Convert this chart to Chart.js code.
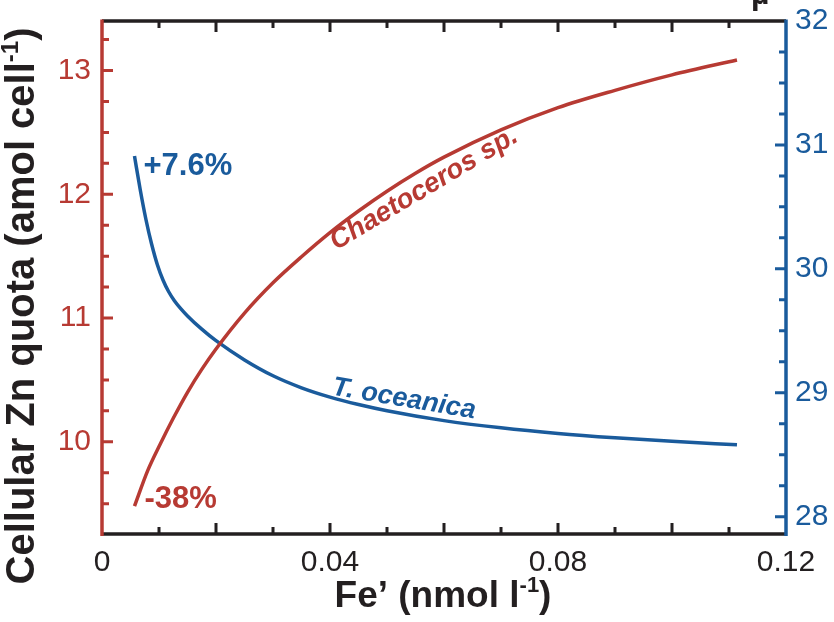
<!DOCTYPE html>
<html lang="en">
<head>
<meta charset="UTF-8">
<title>Cellular Zn quota vs Fe'</title>
<script src="https://cdn.jsdelivr.net/npm/chart.js@4.4.0/dist/chart.umd.min.js"></script>
<style>
  body { margin: 0; background: #fff; }
  #chart-box { position: relative; width: 834px; height: 622px; }
</style>
</head>
<body>
<div id="chart-box"><canvas id="zn-chart" width="834" height="622"></canvas></div>
<script>
// Fe' (nmol l-1) and cellular Zn quota (amol cell-1) for Chaetoceros sp. (left axis)
var chaetoFe = [0.0057, 0.008, 0.0102, 0.0125, 0.015, 0.0175, 0.02, 0.025, 0.03, 0.035, 0.04, 0.045, 0.05, 0.055, 0.06, 0.07, 0.08, 0.09, 0.1, 0.1114];
var chaetoZn = [9.48, 9.765, 9.98, 10.19, 10.40, 10.585, 10.75, 11.04, 11.285, 11.495, 11.69, 11.865, 12.025, 12.17, 12.30, 12.52, 12.70, 12.84, 12.965, 13.085];

// T. oceanica, right axis
var oceanicaFe = [0.0057, 0.0067, 0.0077, 0.0087, 0.0097, 0.0107, 0.0117, 0.0127, 0.0137, 0.015, 0.0175, 0.02, 0.025, 0.03, 0.035, 0.04, 0.045, 0.05, 0.06, 0.07, 0.08, 0.09, 0.1, 0.1114];
var oceanicaZn = [30.91, 30.64, 30.40, 30.20, 30.035, 29.91, 29.815, 29.743, 29.685, 29.62, 29.513, 29.42, 29.265, 29.137, 29.04, 28.965, 28.905, 28.855, 28.775, 28.717, 28.672, 28.637, 28.608, 28.58];

var feTicks = [0, 0.04, 0.08, 0.12];
var feTickLabels = ['0', '0.04', '0.08', '0.12'];
var leftTicks = [10, 11, 12, 13];
var rightTicks = [28, 29, 30, 31, 32];

var RED = '#b73a33';
var BLUE = '#1a5b9c';
var INK = '#231f20';
var FONT = '"Liberation Sans", Arial, Helvetica, sans-serif';

function toPoints(xs, ys) {
	var pts = [];
	for (var i = 0; i < xs.length; i++) pts.push({ x: xs[i], y: ys[i] });
	return pts;
}

function fixTicks(vals) {
	return function (scale) {
		scale.ticks = vals.map(function (v) { return { value: v }; });
	};
}

// pin the axis box sizes; edge labels may overhang the plot
function fixSize(w, h) {
	return function (s) {
		if (w != null) s.width = w;
		if (h != null) s.height = h;
		s.paddingTop = 0; s.paddingBottom = 0;
		s.paddingLeft = 0; s.paddingRight = 0;
	};
}

// axis frame with inward ticks, titles and curve labels
var framePlugin = {
	id: 'frame',
	afterDraw: function (chart) {
		var ctx = chart.ctx;
		var a = chart.chartArea;
		var sx = chart.scales.x, sl = chart.scales.yL, sr = chart.scales.yR;
		ctx.save();
		ctx.lineCap = 'butt';

		// top and bottom black lines
		ctx.strokeStyle = INK;
		ctx.lineWidth = 3.5;
		ctx.beginPath();
		ctx.moveTo(a.left, a.top); ctx.lineTo(a.right, a.top);
		ctx.moveTo(a.left, a.bottom); ctx.lineTo(a.right, a.bottom);
		ctx.stroke();
		ctx.lineWidth = 3;
		ctx.beginPath();
		for (var i = 1; i < 12; i++) {
			var px = sx.getPixelForValue(i * 0.01);
			var len = (i % 2 == 0) ? 11 : 7;
			ctx.moveTo(px, a.bottom); ctx.lineTo(px, a.bottom - len);
			ctx.moveTo(px, a.top); ctx.lineTo(px, a.top + len);
		}
		ctx.stroke();

		// left axis (red)
		ctx.strokeStyle = RED;
		ctx.lineWidth = 3.5;
		ctx.beginPath();
		ctx.moveTo(a.left, a.top - 1.5); ctx.lineTo(a.left, a.bottom + 2);
		ctx.stroke();
		ctx.lineWidth = 3;
		ctx.beginPath();
		for (var k = Math.ceil(sl.min * 4); k <= Math.floor(sl.max * 4); k++) {
			var py = sl.getPixelForValue(k / 4);
			var l2 = (k % 4 == 0) ? 11 : 7;
			ctx.moveTo(a.left, py); ctx.lineTo(a.left + l2, py);
		}
		ctx.stroke();

		// right axis (blue)
		ctx.strokeStyle = BLUE;
		ctx.lineWidth = 3.5;
		ctx.beginPath();
		ctx.moveTo(a.right, a.top - 1.5); ctx.lineTo(a.right, a.bottom + 2);
		ctx.stroke();
		ctx.lineWidth = 3;
		ctx.beginPath();
		for (var m = Math.ceil(sr.min * 4); m < Math.floor(sr.max * 4); m++) {
			var py2 = sr.getPixelForValue(m / 4);
			var l3 = (m % 4 == 0) ? 11 : 7;
			ctx.moveTo(a.right, py2); ctx.lineTo(a.right - l3, py2);
		}
		ctx.stroke();

		// axis titles
		ctx.fillStyle = INK;
		ctx.textBaseline = 'alphabetic';
		drawSupTitle(ctx, 'Fe\u2019 (nmol l', '-1', ')', 37, 443, 607, 0);
		drawSupTitle(ctx, 'Cellular Zn quota (amol cell', '-1', ')', 40, 34, 306, -Math.PI / 2);

		// clipped axis symbol at the top right
		ctx.font = 'bold 32px ' + FONT;
		ctx.textAlign = 'left';
		ctx.fillText('\u00b5', 751, 4);

		// change labels at the low-Fe end of each curve
		ctx.font = 'bold 31px ' + FONT;
		var b0x = sx.getPixelForValue(oceanicaFe[0]);
		var b0y = sr.getPixelForValue(oceanicaZn[0]);
		ctx.fillStyle = BLUE;
		ctx.fillText('+7.6%', b0x + 9, b0y + 19);
		var r0x = sx.getPixelForValue(chaetoFe[0]);
		var r0y = sl.getPixelForValue(chaetoZn[0]);
		ctx.fillStyle = RED;
		ctx.fillText('-38%', r0x + 10, r0y + 2);

		// species names along the curves
		ctx.save();
		ctx.font = 'italic bold 27.5px ' + FONT;
		ctx.translate(sx.getPixelForValue(0.0411), sl.getPixelForValue(11.546));
		ctx.rotate(-31 * Math.PI / 180);
		ctx.fillStyle = RED;
		ctx.fillText('Chaetoceros sp.', 0, 0);
		ctx.restore();
		ctx.save();
		ctx.font = 'italic bold 27px ' + FONT;
		ctx.translate(sx.getPixelForValue(0.0402), sr.getPixelForValue(28.986));
		ctx.rotate(9.5 * Math.PI / 180);
		ctx.fillStyle = BLUE;
		ctx.fillText('T. oceanica', 0, 0);
		ctx.restore();

		ctx.restore();
	}
};

// centred bold title with a small raised exponent
function drawSupTitle(ctx, main, sup, tail, size, cx, cy, angle) {
	var big = 'bold ' + size + 'px ' + FONT;
	var small = 'bold ' + Math.round(size * 0.6) + 'px ' + FONT;
	ctx.font = big;
	var w1 = ctx.measureText(main).width;
	var w3 = ctx.measureText(tail).width;
	ctx.font = small;
	var w2 = ctx.measureText(sup).width;
	var total = w1 + w2 + w3;
	ctx.save();
	ctx.translate(cx, cy);
	ctx.rotate(angle);
	ctx.textAlign = 'left';
	var x0 = -total / 2;
	ctx.font = big;
	ctx.fillText(main, x0, 0);
	ctx.font = small;
	ctx.fillText(sup, x0 + w1, -size * 0.4);
	ctx.font = big;
	ctx.fillText(tail, x0 + w1 + w2, 0);
	ctx.restore();
}

var tickFont = { family: FONT, size: 30 };

new Chart(document.getElementById('zn-chart'), {
	type: 'line',
	data: {
		datasets: [
			{
				label: 'Chaetoceros sp.',
				data: toPoints(chaetoFe, chaetoZn),
				yAxisID: 'yL',
				borderColor: RED,
				borderWidth: 3.5,
				pointRadius: 0,
				fill: false,
				cubicInterpolationMode: 'monotone'
			},
			{
				label: 'T. oceanica',
				data: toPoints(oceanicaFe, oceanicaZn),
				yAxisID: 'yR',
				borderColor: BLUE,
				borderWidth: 3.5,
				pointRadius: 0,
				fill: false,
				cubicInterpolationMode: 'monotone'
			}
		]
	},
	options: {
		responsive: false,
		animation: false,
		devicePixelRatio: 1,
		layout: { padding: { top: 21, left: 0, right: 0, bottom: 0 } },
		plugins: { legend: { display: false }, tooltip: { enabled: false } },
		scales: {
			x: {
				type: 'linear',
				min: 0,
				max: 0.12,
				grid: { display: false, drawTicks: false },
				border: { display: false },
				afterBuildTicks: fixTicks(feTicks),
				ticks: {
					color: INK,
					font: tickFont,
					padding: 11,
					maxRotation: 0,
					autoSkip: false,
					callback: function (v, i) { return feTickLabels[i]; }
				},
				afterFit: fixSize(null, 88)
			},
			yL: {
				type: 'linear',
				position: 'left',
				min: 9.255,
				max: 13.40,
				grid: { display: false, drawTicks: false },
				border: { display: false },
				afterBuildTicks: fixTicks(leftTicks),
				ticks: { color: RED, font: tickFont, padding: 11 },
				afterFit: fixSize(102, null)
			},
			yR: {
				type: 'linear',
				position: 'right',
				min: 27.86,
				max: 32,
				grid: { display: false, drawTicks: false },
				border: { display: false },
				afterBuildTicks: fixTicks(rightTicks),
				ticks: { color: BLUE, font: tickFont, padding: 9 },
				afterFit: fixSize(48, null)
			}
		}
	},
	plugins: [framePlugin]
});
</script>
</body>
</html>
